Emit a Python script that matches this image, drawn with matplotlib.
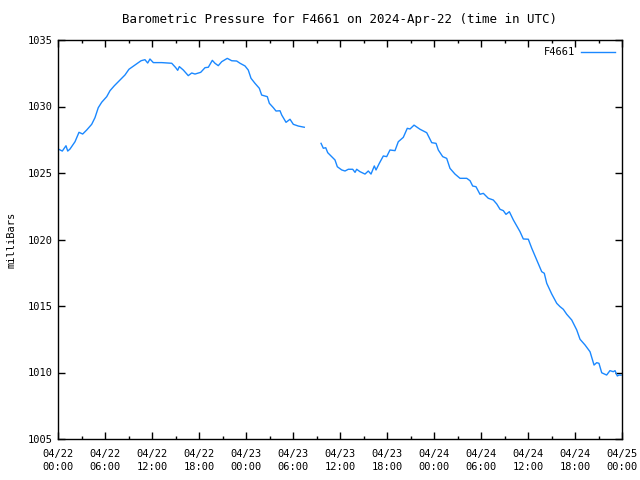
import matplotlib
matplotlib.use("Agg")
import matplotlib.pyplot as plt
import numpy as np

# hours since 2024-04-22 00:00 UTC; NaN marks the data gap
hours = [
    0.04, 0.55, 1.02, 1.24, 1.53, 2.17, 2.68, 3.15, 3.66, 4.30, 4.72, 5.14, 5.58,
    6.22, 6.64, 7.19, 7.92, 8.55, 9.06, 9.83, 10.6, 11.1, 11.45, 11.74, 12.17,
    13.24, 14.52, 15.03, 15.28, 15.49, 16.0, 16.63, 17.07, 17.49, 18.22, 18.77,
    19.19, 19.7, 20.04, 20.46, 20.9, 21.61, 22.18, 22.81, 23.24, 23.87, 24.29,
    24.64, 25.15, 25.7, 26.0, 26.72, 26.98, 27.49, 27.83, 28.34, 28.56, 29.11,
    29.62, 30.04, 30.68, 31.44,
    32.5,
    33.58, 33.87, 34.18, 34.43, 34.94, 35.36, 35.66, 36.22, 36.64, 37.06, 37.62,
    37.92, 38.13, 38.55, 39.19, 39.61, 39.96, 40.38, 40.6, 41.02, 41.53, 41.96,
    42.38, 43.02, 43.44, 44.08, 44.59, 44.94, 45.45, 46.21, 47.07, 47.71, 48.26,
    48.55, 49.11, 49.62, 50.04, 50.68, 51.32, 52.18, 52.6, 52.94, 53.36, 53.87,
    54.3, 54.93, 55.57, 56.01, 56.43, 56.85, 57.19, 57.62, 58.13, 58.56, 58.98,
    59.4, 60.04, 60.48, 61.11, 61.75, 62.08, 62.39, 63.03, 63.67, 64.09, 64.51,
    64.94, 65.58, 66.22, 66.64, 67.28, 67.92, 68.43, 68.77, 69.06, 69.41, 70.04,
    70.46, 70.89, 71.11, 71.4, 71.62, 71.88,
]
pressure = [
    1026.8, 1026.65, 1027.05, 1026.65, 1026.8, 1027.35, 1028.06, 1027.93, 1028.23,
    1028.66, 1029.16, 1029.91, 1030.32, 1030.74, 1031.19, 1031.56, 1031.99,
    1032.37, 1032.8, 1033.12, 1033.44, 1033.52, 1033.27, 1033.57, 1033.3, 1033.3,
    1033.25, 1032.92, 1032.72, 1033.0, 1032.74, 1032.32, 1032.52, 1032.44,
    1032.57, 1032.92, 1032.95, 1033.47, 1033.25, 1033.07, 1033.37, 1033.62,
    1033.44, 1033.42, 1033.25, 1033.05, 1032.74, 1032.12, 1031.74, 1031.37,
    1030.86, 1030.74, 1030.24, 1029.91, 1029.66, 1029.68, 1029.36, 1028.81,
    1029.04, 1028.66, 1028.53, 1028.44,
    np.nan,
    1027.23, 1026.86, 1026.9, 1026.53, 1026.23, 1025.98, 1025.47, 1025.23,
    1025.15, 1025.28, 1025.28, 1025.05, 1025.28, 1025.1, 1024.92, 1025.15,
    1024.92, 1025.53, 1025.23, 1025.73, 1026.28, 1026.23, 1026.73, 1026.68,
    1027.35, 1027.68, 1028.36, 1028.31, 1028.6, 1028.29, 1028.03, 1027.28,
    1027.23, 1026.73, 1026.23, 1026.1, 1025.35, 1024.92, 1024.6, 1024.6, 1024.42,
    1024.02, 1023.97, 1023.4, 1023.47, 1023.1, 1022.97, 1022.67, 1022.27,
    1022.17, 1021.89, 1022.09, 1021.47, 1021.02, 1020.59, 1020.04, 1020.02,
    1019.34, 1018.46, 1017.58, 1017.46, 1016.71, 1015.9, 1015.2, 1014.95,
    1014.75, 1014.38, 1013.95, 1013.2, 1012.5, 1012.07, 1011.56, 1010.56,
    1010.74, 1010.69, 1009.98, 1009.81, 1010.14, 1010.06, 1010.14, 1009.74,
    1009.81, 1009.8,
]

tick_hours = [0, 6, 12, 18, 24, 30, 36, 42, 48, 54, 60, 66, 72]
tick_labels = [
    "04/22\n00:00", "04/22\n06:00", "04/22\n12:00", "04/22\n18:00",
    "04/23\n00:00", "04/23\n06:00", "04/23\n12:00", "04/23\n18:00",
    "04/24\n00:00", "04/24\n06:00", "04/24\n12:00", "04/24\n18:00",
    "04/25\n00:00",
]
y_ticks = [1005, 1010, 1015, 1020, 1025, 1030, 1035]

plt.rcParams["font.family"] = ["DejaVu Sans Mono"]
plt.rcParams["font.size"] = 7.5

fig = plt.figure(figsize=(6.4, 4.8), dpi=100)
ax = fig.add_axes([58 / 640, 41 / 480, 564 / 640, 399 / 480])

ax.plot(hours, pressure, color="#1a88ff", lw=1.0, label="F4661")

ax.set_xlim(0, 72)
ax.set_ylim(1005, 1035)
ax.set_xticks(tick_hours)
ax.set_xticklabels(tick_labels, linespacing=1.45)
ax.set_xticks(np.arange(3, 72, 6), minor=True)
ax.set_yticks(y_ticks)
ax.tick_params(which="both", direction="in", top=True, right=True, width=1.0)
ax.tick_params(which="major", length=5, pad=4)
ax.tick_params(axis="x", which="major", pad=7)
ax.tick_params(which="minor", length=2.5)
for s in ax.spines.values():
    s.set_linewidth(1.0)

ax.set_title("Barometric Pressure for F4661 on 2024-Apr-22 (time in UTC)", pad=12)
ax.set_ylabel("milliBars", labelpad=8)
ax.legend(loc="upper right", frameon=False, markerfirst=False,
          handlelength=3.2, borderaxespad=0.3, handletextpad=0.6)

fig.savefig("out.png", dpi=100)
